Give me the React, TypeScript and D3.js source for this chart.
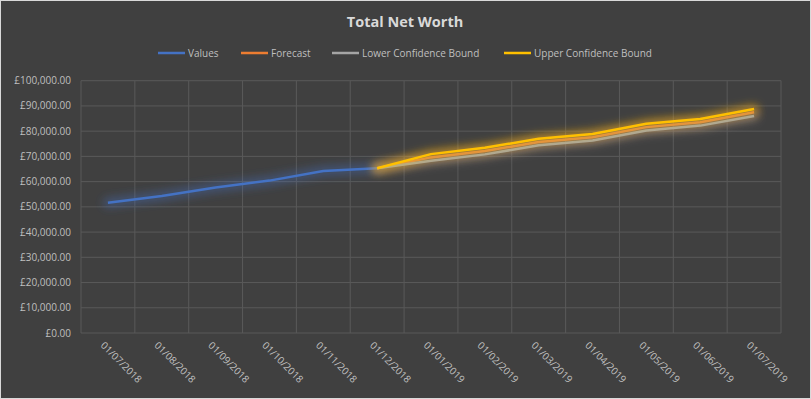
import React from "react";
import * as d3 from "d3";

const dates = [
  "01/07/2018", "01/08/2018", "01/09/2018", "01/10/2018", "01/11/2018",
  "01/12/2018", "01/01/2019", "01/02/2019", "01/03/2019", "01/04/2019",
  "01/05/2019", "01/06/2019", "01/07/2019",
];
const values = [51600, 54300, 57700, 60400, 64200, 65300, null, null, null, null, null, null, null];
const forecast = [null, null, null, null, null, 65300, 69600, 72100, 75700, 77600, 81600, 83500, 87500];
const lowerBound = [null, null, null, null, null, 65300, 68300, 70800, 74400, 76300, 80300, 82200, 86000];
const upperBound = [null, null, null, null, null, 65300, 70900, 73400, 77000, 78900, 82900, 84800, 88800];
const yTicks = [0, 10000, 20000, 30000, 40000, 50000, 60000, 70000, 80000, 90000, 100000];

const W = 811;
const H = 399;
const plot = { left: 81, right: 781, top: 80.7, bottom: 333 };
const font = "'Open Sans', 'DejaVu Sans', sans-serif";

const series = [
  { name: "Values", data: values, color: "#4472c4", legendX: 158 },
  { name: "Forecast", data: forecast, color: "#ed7d31", legendX: 241 },
  { name: "Lower Confidence Bound", data: lowerBound, color: "#a5a5a5", legendX: 332 },
  { name: "Upper Confidence Bound", data: upperBound, color: "#ffc000", legendX: 504 },
];

export default function App() {
  const x = d3.scalePoint<string>().domain(dates).range([plot.left, plot.right]).padding(0.5);
  const y = d3.scaleLinear().domain([0, 100000]).range([plot.bottom, plot.top]);
  const step = x.step();
  const gridX = d3.range(dates.length + 1).map((i) => plot.left + i * step);
  const money = (v: number) => "£" + d3.format(",.2f")(v);

  const line = d3
    .line<number | null>()
    .defined((d) => d !== null)
    .x((_, i) => x(dates[i]) as number)
    .y((d) => y(d as number));

  return (
    <svg
      width={W}
      height={H}
      style={{ position: "fixed", left: 0, top: 0, fontFamily: font }}
    >
      <defs>
        <filter id="glow" x="-20%" y="-60%" width="140%" height="220%">
          <feGaussianBlur stdDeviation="4.5" />
        </filter>
      </defs>
      <rect x={0.5} y={0.5} width={W - 1} height={H - 1} fill="#404040" stroke="#d9d9d9" />

      <text x={405} y={27} textAnchor="middle" fill="#d9d9d9" fontSize={14.5} fontWeight="bold">
        Total Net Worth
      </text>

      {series.map((s) => (
        <g key={s.name}>
          <line x1={s.legendX} x2={s.legendX + 27} y1={53} y2={53} stroke={s.color} strokeWidth={2.5} />
          <text x={s.legendX + 30} y={56.5} fill="#bfbfbf" fontSize={10}>
            {s.name}
          </text>
        </g>
      ))}

      {/* gridlines */}
      {yTicks.map((t) => (
        <line key={t} x1={plot.left} x2={plot.right} y1={y(t)} y2={y(t)} stroke="#595959" strokeWidth={1} />
      ))}
      {gridX.map((gx, i) => (
        <line key={i} x1={gx} x2={gx} y1={plot.top} y2={plot.bottom} stroke="#595959" strokeWidth={1} />
      ))}

      {yTicks.map((t) => (
        <text key={t} x={71} y={y(t) + 3.5} textAnchor="end" fill="#bfbfbf" fontSize={10}>
          {money(t)}
        </text>
      ))}

      {dates.map((d) => (
        <text
          key={d}
          transform={`translate(${(x(d) as number) - 8},${346}) rotate(45)`}
          fill="#bfbfbf"
          fontSize={10}
        >
          {d}
        </text>
      ))}

      {series.map((s) => (
        <g key={s.name}>
          <path
            d={line(s.data) || ""}
            fill="none"
            stroke={s.color}
            strokeOpacity={0.38}
            strokeWidth={10}
            strokeLinejoin="round"
            strokeLinecap="round"
            filter="url(#glow)"
          />
          <path d={line(s.data) || ""} fill="none" stroke={s.color} strokeWidth={2.5} strokeLinejoin="round" />
        </g>
      ))}
    </svg>
  );
}
